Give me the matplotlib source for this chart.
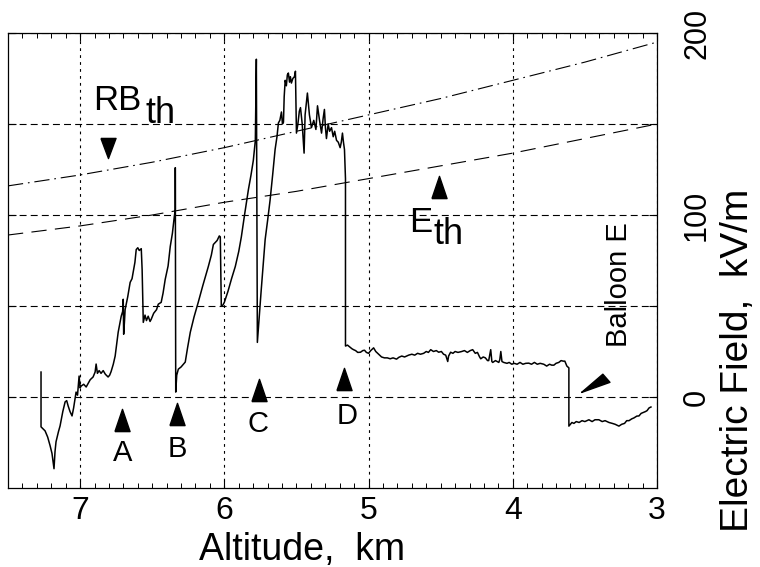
import numpy as np
import matplotlib
matplotlib.use("Agg")
import matplotlib.pyplot as plt
from matplotlib.path import Path
from matplotlib.ticker import MultipleLocator, FixedLocator

plt.rcParams['font.family'] = ['Liberation Sans', 'DejaVu Sans']
plt.rcParams['lines.scale_dashes'] = False

# ---- balloon electric field trace (altitude km, field kV/m) ----
alt_rise = [7.271, 7.271, 7.257, 7.243, 7.225, 7.208, 7.195, 7.181, 7.174, 7.167,
            7.150, 7.139, 7.120, 7.104, 7.093, 7.083, 7.070, 7.056, 7.045, 7.028,
            7.018, 7.007, 7.000, 6.993, 6.975, 6.958, 6.930, 6.910, 6.896, 6.889,
            6.880, 6.868, 6.855, 6.840, 6.825, 6.806, 6.795, 6.785, 6.770, 6.757,
            6.736, 6.715, 6.705, 6.701, 6.698, 6.692, 6.688, 6.670, 6.653, 6.640,
            6.632, 6.620, 6.611, 6.600, 6.590, 6.576, 6.570, 6.562, 6.550, 6.540,
            6.528, 6.515, 6.507, 6.490, 6.470, 6.458, 6.438, 6.425, 6.410, 6.390,
            6.375, 6.360, 6.347, 6.340, 6.340]
e_rise = [13.7, -16.4, -17.5, -18.6, -22.0, -26.8, -31.0, -39.4, -30.0, -24.6,
          -19.0, -15.9, -8.0, -2.7, -2.0, -4.9, -8.0, -10.4, -6.0, 2.7,
          1.0, 11.5, 5.0, 6.0, 7.0, 5.5, 9.5, 11.0, 13.7, 18.1,
          13.0, 14.5, 13.0, 14.5, 12.5, 11.0, 12.0, 14.0, 18.0, 22.5,
          35.6, 44.4, 47.0, 53.7, 34.5, 42.0, 48.0, 55.0, 63.0, 65.0,
          68.5, 74.0, 81.0, 82.0, 80.5, 81.5, 70.0, 41.0, 45.0, 42.0,
          44.4, 41.5, 42.7, 46.0, 48.0, 51.0, 52.0, 57.0, 64.6, 72.0,
          82.7, 90.0, 99.0, 103.0, 126.0]

alt_mid = [6.337, 6.330, 6.319, 6.300, 6.271, 6.255, 6.236, 6.210, 6.181, 6.150,
           6.111, 6.090, 6.076, 6.050, 6.035, 6.028, 6.021, 6.010, 6.000, 5.975,
           5.950, 5.924, 5.900, 5.882, 5.860, 5.833, 5.815, 5.799, 5.785, 5.778,
           5.771, 5.745, 5.717, 5.700, 5.683, 5.665, 5.648, 5.635, 5.625, 5.615]
e_mid = [2.7, 12.0, 15.3, 16.5, 19.2, 27.0, 35.6, 44.0, 52.0, 61.0,
         71.7, 78.0, 83.8, 86.0, 88.5, 88.0, 50.0, 50.5, 52.0, 58.0,
         65.0, 71.7, 80.0, 88.0, 100.0, 114.0, 122.0, 130.0, 141.0, 185.6,
         30.0, 58.0, 86.5, 97.0, 108.0, 122.0, 136.0, 143.0, 150.6, 152.0]

alt_peak = [5.604, 5.597, 5.590, 5.585, 5.578, 5.570, 5.563, 5.556, 5.548, 5.542,
            5.535, 5.525, 5.514, 5.507, 5.500, 5.490, 5.480, 5.472, 5.460, 5.447,
            5.440, 5.424, 5.410, 5.396, 5.380, 5.365, 5.354, 5.340, 5.326, 5.315,
            5.306, 5.299, 5.292, 5.280, 5.270, 5.257, 5.245, 5.235, 5.222, 5.210,
            5.197, 5.189, 5.181, 5.174, 5.167, 5.160, 5.160]
e_peak = [156.6, 150.0, 151.0, 165.0, 174.0, 171.0, 177.0, 178.0, 173.0, 176.0,
          172.5, 175.0, 176.0, 179.0, 145.0, 150.0, 157.0, 159.0, 150.0, 134.0,
          155.0, 167.0, 155.0, 148.0, 152.0, 147.0, 160.0, 152.0, 145.0, 153.0,
          158.0, 148.0, 142.0, 150.0, 146.0, 148.0, 143.0, 146.0, 141.0, 140.0,
          137.0, 140.0, 145.0, 140.0, 136.0, 120.0, 28.0]

alt_tail = [5.146, 5.130, 5.115, 5.104, 5.090, 5.075, 5.056, 5.040, 5.028, 5.015,
            5.000, 4.985, 4.965, 4.950, 4.930, 4.910, 4.890, 4.870, 4.850, 4.830,
            4.806, 4.790, 4.770, 4.750, 4.722, 4.700, 4.680, 4.660, 4.640, 4.618,
            4.600, 4.585, 4.569, 4.550, 4.530, 4.514, 4.495, 4.480, 4.465, 4.451,
            4.445, 4.431, 4.415, 4.400, 4.380, 4.354, 4.335, 4.315, 4.295, 4.278,
            4.260, 4.245, 4.230, 4.222, 4.205, 4.190, 4.175, 4.167, 4.153, 4.145,
            4.139, 4.120, 4.097, 4.090, 4.083, 4.075, 4.063, 4.040, 4.025, 4.007,
            3.990, 3.970, 3.950, 3.930, 3.910, 3.889, 3.870, 3.850, 3.830, 3.810,
            3.785, 3.765, 3.745, 3.730, 3.715, 3.700, 3.681, 3.665, 3.650, 3.639,
            3.625, 3.611, 3.611, 3.600, 3.590, 3.576, 3.560, 3.540, 3.520, 3.500,
            3.472, 3.450, 3.430, 3.403, 3.380, 3.360, 3.333, 3.310, 3.290, 3.264,
            3.245, 3.225, 3.210, 3.194, 3.175, 3.160, 3.140, 3.125, 3.110, 3.095,
            3.080, 3.069, 3.055, 3.042]
e_tail = [28.5, 27.5, 26.5, 26.0, 25.5, 24.5, 24.6, 25.5, 25.7, 24.5,
          24.0, 25.5, 27.0, 25.0, 23.5, 22.0, 21.5, 21.5, 21.0, 21.5,
          20.8, 21.8, 22.5, 22.0, 23.0, 23.5, 23.0, 24.0, 23.5, 24.0,
          25.0, 24.5, 26.0, 25.0, 25.5, 24.6, 25.0, 23.5, 23.0, 19.5,
          22.5, 24.6, 24.0, 25.0, 24.5, 25.0, 25.5, 24.5, 25.5, 26.0,
          24.0, 24.5, 22.0, 21.0, 22.0, 21.5, 20.0, 20.0, 26.0, 19.5,
          19.0, 20.0, 19.0, 20.5, 25.0, 19.5, 19.0, 18.5, 19.0, 18.0,
          18.5, 18.0, 19.0, 18.0, 18.5, 18.6, 18.0, 19.0, 18.0, 18.5,
          18.0, 17.0, 18.0, 17.5, 17.5, 18.5, 19.0, 20.0, 19.7, 19.7,
          17.0, 16.0, -16.0, -15.0, -14.0, -14.5, -13.5, -14.0, -13.0, -13.5,
          -12.5, -13.5, -12.5, -12.5, -13.5, -13.0, -14.0, -14.5, -15.0, -16.0,
          -15.0, -14.5, -13.0, -13.0, -12.0, -11.5, -10.5, -10.4, -9.0, -8.5,
          -8.0, -7.5, -6.0, -5.5]

# ---- threshold fields read at 0.5 km steps ----
alt_thr = [7.5, 7.0, 6.5, 6.0, 5.5, 5.0, 4.5, 4.0, 3.5, 3.0]
e_th = [89, 94, 100, 107, 113, 120, 127, 134, 142, 150]
rb_th = [116, 122, 129, 137, 146, 155, 164, 174, 184, 195]

# ---- annotation marks ----
up_alt = [6.708, 6.326, 5.757, 5.167, 4.514]
up_e = [-12.6, -9.3, 3.8, 9.9, 115.6]
letters = ['A', 'B', 'C', 'D']
letter_alt = [6.708, 6.326, 5.764, 5.146]
letter_e = [-30.7, -28.5, -14.8, -10.4]
down_alt = [6.81]
down_e = [137]
arrow_alt = [3.528]
arrow_e = [2.7]

x_major = [7, 6, 5, 4, 3]
y_major = [0, 50, 100, 150, 200]
y_labels = ['0', '', '100', '', '200']

alt = np.concatenate([alt_rise, alt_mid, alt_peak, alt_tail])
efield = np.concatenate([e_rise, e_mid, e_peak, e_tail])

fig = plt.figure(figsize=(7.6, 5.67), dpi=100)
ax = fig.add_axes([8/760, 1-488/567, (657-8)/760, (488-33)/567])

ax.plot(alt, efield, color='black', lw=1.1)
ax.plot(alt_thr, e_th, color='black', lw=0.8, linestyle=(0, (11, 6)))
ax.plot(alt_thr, rb_th, color='black', lw=0.8, linestyle=(0, (11, 3.5, 1.2, 3.5)))

up_marker = Path([(-0.68, -1), (0.68, -1), (0, 1), (-0.68, -1)])
down_marker = Path([(-0.75, 1), (0.75, 1), (0, -1), (-0.75, 1)])
arrow_marker = Path([(0, 0), (21, 18), (28, 10), (0, 0)])
ax.plot(up_alt, up_e, linestyle='none', marker=up_marker, ms=16, color='black')
ax.plot(down_alt, down_e, linestyle='none', marker=down_marker, ms=14.5, color='black')
ax.plot(arrow_alt, arrow_e, linestyle='none', marker=arrow_marker, ms=41, color='black')

for s, xa, ye in zip(letters, letter_alt, letter_e):
    ax.text(xa, ye, s, fontsize=21, ha='center', va='center')

ax.text(6.910, 157.7, 'RB', fontsize=25, ha='left', va='baseline')
ax.text(6.545, 150.6, 'th', fontsize=26, ha='left', va='baseline')
ax.text(4.722, 90.4, 'E', fontsize=25, ha='left', va='baseline')
ax.text(4.549, 83.8, 'th', fontsize=26, ha='left', va='baseline')
ax.text(3.264, 62, 'Balloon E', fontsize=21, rotation=90, ha='center', va='center')

ax.set_xlim(7.5, 3)
ax.set_ylim(-50, 200)
ax.xaxis.set_major_locator(FixedLocator(x_major))
ax.xaxis.set_minor_locator(MultipleLocator(0.1))
ax.set_xticklabels([str(v) for v in x_major])
ax.yaxis.set_major_locator(FixedLocator(y_major))
ax.set_yticklabels(y_labels, rotation=90, va='center')

ax.tick_params(axis='x', which='both', direction='in', top=True, bottom=True,
               labelsize=23, pad=6)
ax.tick_params(axis='x', which='major', length=6, width=0.8)
ax.tick_params(axis='x', which='minor', length=3.5, width=0.7)
ax.tick_params(axis='y', which='both', direction='in', left=True, right=True,
               labelleft=False, labelright=True, labelsize=22, length=6, width=0.8, pad=18)

ax.xaxis.grid(True, which='major', color='black', lw=0.8, linestyle=(0, (2, 3)))
ax.yaxis.grid(True, which='major', color='black', lw=0.8, linestyle=(0, (5, 3)))

for sp in ax.spines.values():
    sp.set_linewidth(0.9)

fig.text(302/760, 1-560/567, 'Altitude,  km', fontsize=27, ha='center', va='baseline')
fig.text(738/760, 1-360/567, 'Electric Field,  kV/m', fontsize=28, rotation=90,
         ha='center', va='center')

fig.savefig('out.png', dpi=100)
